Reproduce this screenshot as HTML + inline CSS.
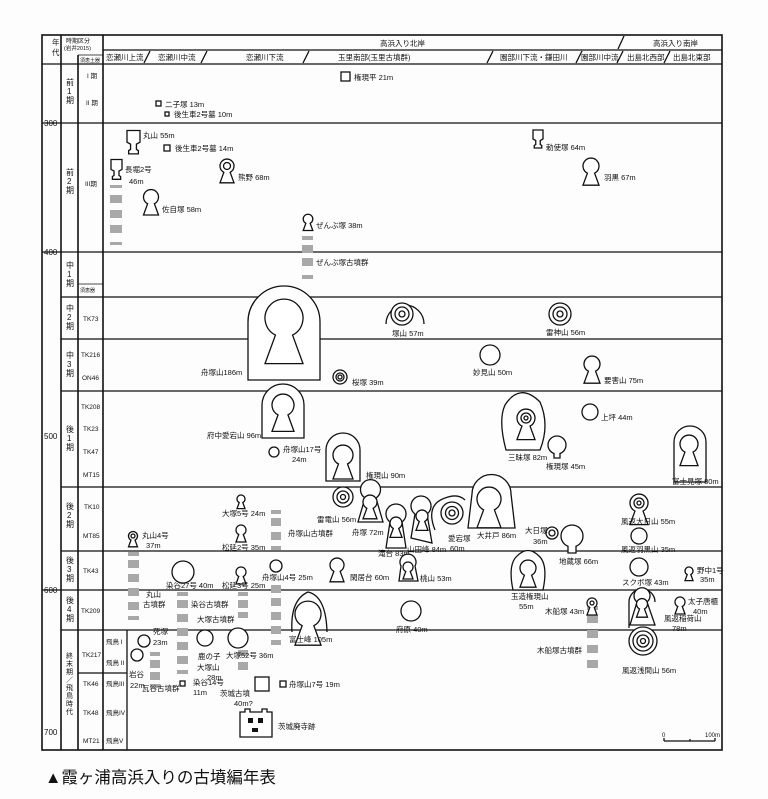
<!DOCTYPE html>
<html><head><meta charset="utf-8"><style>
html,body{margin:0;padding:0;background:#fff}
svg{display:block}
text{font-family:"Liberation Sans","Noto Sans CJK JP",sans-serif;font-size:7.5px;fill:#111}
.s{fill:#fff;stroke:#111;stroke-width:1.3}
.l{stroke:#111;stroke-width:1.3}
.t{stroke:#111;stroke-width:1.6}
.g{fill:#a8a8a8}
</style></head><body>
<svg width="768" height="799" viewBox="0 0 768 799" xmlns="http://www.w3.org/2000/svg">
<defs>
<path id="kh" d="M-0.45,0.9 A1,1 0 1 1 0.45,0.9 L1,2.4 L-1,2.4 Z" fill="#fff" stroke="#111" stroke-width="1.3" vector-effect="non-scaling-stroke"/>
<path id="sk" d="M-1,-1 H1 V0.8 L0.45,1.1 V1.9 L0.75,2.1 V2.6 H-0.75 V2.1 L-0.45,1.9 V1.1 L-1,0.8 Z" fill="#fff" stroke="#111" stroke-width="1.3" vector-effect="non-scaling-stroke"/>
</defs>
<rect width="768" height="799" fill="#fdfdfd"/>
<!-- main horizontal lines -->
<g class="l">
<line x1="42" y1="123" x2="722" y2="123"/>
<line x1="42" y1="252" x2="722" y2="252"/>
<line x1="61" y1="297" x2="722" y2="297"/>
<line x1="61" y1="339" x2="722" y2="339"/>
<line x1="61" y1="391" x2="722" y2="391"/>
<line x1="61" y1="487" x2="722" y2="487"/>
<line x1="61" y1="551" x2="722" y2="551"/>
<line x1="42" y1="590" x2="722" y2="590"/>
<line x1="61" y1="630" x2="722" y2="630"/>
<line x1="78" y1="673" x2="127" y2="673"/>
<line x1="42" y1="64" x2="722" y2="64"/>
<line x1="103" y1="50" x2="722" y2="50"/>
<line x1="127" y1="630" x2="127" y2="750"/>
<line x1="78" y1="55" x2="103" y2="55" stroke-width="0.8"/>
<line x1="78" y1="284" x2="103" y2="284" stroke="#888" stroke-width="1.5"/>
</g>
<rect x="42" y="35" width="680" height="715" fill="none" class="t"/>
<g class="t"><line x1="61" y1="35" x2="61" y2="750"/><line x1="78" y1="55" x2="78" y2="750"/><line x1="103" y1="35" x2="103" y2="750"/></g>
<!-- header slashes -->
<g class="l" stroke-width="1">
<line x1="144" y1="63" x2="150" y2="51"/><line x1="201" y1="63" x2="207" y2="51"/><line x1="303" y1="63" x2="309" y2="51"/>
<line x1="487" y1="63" x2="493" y2="51"/><line x1="576" y1="63" x2="582" y2="51"/><line x1="617" y1="63" x2="623" y2="51"/>
<line x1="664" y1="63" x2="670" y2="51"/><line x1="618" y1="49" x2="624" y2="36"/>
</g>
<text x="52" y="45">年</text><text x="52" y="55">代</text>
<text x="66" y="43" style="font-size:6px">時期区分</text><text x="64" y="50" style="font-size:5.5px">(岩井2015)</text>
<text x="80" y="62" style="font-size:5px">須恵土器</text>
<text x="380" y="46">高浜入り北岸</text><text x="653" y="46">高浜入り南岸</text>
<text x="106" y="60">恋瀬川上流</text><text x="158" y="60">恋瀬川中流</text><text x="246" y="60">恋瀬川下流</text>
<text x="338" y="60">玉里南部(玉里古墳群)</text><text x="500" y="60">園部川下流・鎌田川</text><text x="581" y="60">園部川中流</text>
<text x="627" y="60">出島北西部</text><text x="673" y="60">出島北東部</text>
<!-- years -->
<g style="font-size:8px"><text x="44" y="126" style="font-size:8px">300</text><text x="44" y="255" style="font-size:8px">400</text><text x="44" y="439" style="font-size:8px">500</text><text x="44" y="593" style="font-size:8px">600</text><text x="44" y="735" style="font-size:8px">700</text></g>
<!-- periods -->
<g style="font-size:8px">
<text x="66" y="85" style="font-size:8px">前</text><text x="67" y="94" style="font-size:8px">1</text><text x="66" y="103" style="font-size:8px">期</text>
<text x="66" y="175" style="font-size:8px">前</text><text x="67" y="184" style="font-size:8px">2</text><text x="66" y="193" style="font-size:8px">期</text>
<text x="66" y="268" style="font-size:8px">中</text><text x="67" y="277" style="font-size:8px">1</text><text x="66" y="286" style="font-size:8px">期</text>
<text x="66" y="311" style="font-size:8px">中</text><text x="67" y="320" style="font-size:8px">2</text><text x="66" y="329" style="font-size:8px">期</text>
<text x="66" y="358" style="font-size:8px">中</text><text x="67" y="367" style="font-size:8px">3</text><text x="66" y="376" style="font-size:8px">期</text>
<text x="66" y="432" style="font-size:8px">後</text><text x="67" y="441" style="font-size:8px">1</text><text x="66" y="450" style="font-size:8px">期</text>
<text x="66" y="509" style="font-size:8px">後</text><text x="67" y="518" style="font-size:8px">2</text><text x="66" y="527" style="font-size:8px">期</text>
<text x="66" y="563" style="font-size:8px">後</text><text x="67" y="572" style="font-size:8px">3</text><text x="66" y="581" style="font-size:8px">期</text>
<text x="66" y="603" style="font-size:8px">後</text><text x="67" y="612" style="font-size:8px">4</text><text x="66" y="621" style="font-size:8px">期</text>
<text x="66" y="658" style="font-size:7px">終</text><text x="66" y="666" style="font-size:7px">末</text><text x="66" y="674" style="font-size:7px">期</text><text x="66" y="682" style="font-size:7px">／</text><text x="66" y="690" style="font-size:7px">飛</text><text x="66" y="698" style="font-size:7px">鳥</text><text x="66" y="706" style="font-size:7px">時</text><text x="66" y="714" style="font-size:7px">代</text>
</g>
<g style="font-size:6.5px">
<text x="87" y="78" style="font-size:6.5px">I 期</text><text x="86" y="105" style="font-size:6.5px">II 期</text><text x="85" y="186" style="font-size:6.5px">III期</text>
<text x="80" y="292" style="font-size:5px">須恵器</text>
<text x="83" y="321" style="font-size:6.5px">TK73</text><text x="81" y="357" style="font-size:6.5px">TK216</text><text x="82" y="380" style="font-size:6.5px">ON46</text>
<text x="81" y="409" style="font-size:6.5px">TK208</text><text x="83" y="431" style="font-size:6.5px">TK23</text><text x="83" y="454" style="font-size:6.5px">TK47</text><text x="83" y="477" style="font-size:6.5px">MT15</text>
<text x="84" y="509" style="font-size:6.5px">TK10</text><text x="83" y="538" style="font-size:6.5px">MT85</text><text x="83" y="573" style="font-size:6.5px">TK43</text><text x="81" y="613" style="font-size:6.5px">TK209</text>
<text x="82" y="657" style="font-size:6.5px">TK217</text><text x="83" y="686" style="font-size:6.5px">TK46</text><text x="83" y="715" style="font-size:6.5px">TK48</text><text x="83" y="743" style="font-size:6.5px">MT21</text>
<text x="106" y="644" style="font-size:6.5px">飛鳥 I</text><text x="106" y="665" style="font-size:6.5px">飛鳥 II</text><text x="106" y="686" style="font-size:6.5px">飛鳥III</text><text x="106" y="715" style="font-size:6.5px">飛鳥IV</text><text x="106" y="743" style="font-size:6.5px">飛鳥V</text>
</g>
<!-- grey bars -->
<g class="g">
<rect x="110" y="185" width="12" height="3"/><rect x="110" y="195" width="12" height="8"/><rect x="110" y="210" width="12" height="8"/><rect x="110" y="225" width="12" height="8"/><rect x="110" y="242" width="12" height="3"/>
<rect x="302" y="236" width="11" height="4"/><rect x="302" y="245" width="11" height="8"/><rect x="302" y="258" width="11" height="8"/><rect x="302" y="275" width="11" height="4"/>
<rect x="128" y="552" width="11" height="4"/><rect x="128" y="560" width="11" height="8"/><rect x="128" y="574" width="11" height="8"/><rect x="128" y="588" width="11" height="8"/><rect x="128" y="602" width="11" height="8"/><rect x="128" y="616" width="11" height="4"/>
<rect x="271" y="510" width="10" height="4"/><rect x="271" y="518" width="10" height="8"/><rect x="271" y="532" width="10" height="8"/><rect x="271" y="546" width="10" height="4"/><rect x="271" y="585" width="10" height="8"/><rect x="271" y="598" width="10" height="8"/><rect x="271" y="612" width="10" height="8"/><rect x="271" y="626" width="10" height="8"/><rect x="271" y="640" width="10" height="5"/>
<rect x="177" y="592" width="11" height="4"/><rect x="177" y="600" width="11" height="8"/><rect x="177" y="614" width="11" height="8"/><rect x="177" y="628" width="11" height="8"/><rect x="177" y="642" width="11" height="8"/><rect x="177" y="656" width="11" height="8"/><rect x="177" y="670" width="11" height="4"/>
<rect x="150" y="652" width="10" height="4"/><rect x="150" y="660" width="10" height="8"/><rect x="150" y="672" width="10" height="8"/><rect x="150" y="684" width="10" height="4"/>
<rect x="238" y="592" width="10" height="4"/><rect x="238" y="600" width="10" height="8"/><rect x="238" y="612" width="10" height="6"/><rect x="238" y="650" width="10" height="6"/><rect x="238" y="662" width="10" height="8"/>
<rect x="587" y="606" width="11" height="4"/><rect x="587" y="615" width="11" height="8"/><rect x="587" y="630" width="11" height="8"/><rect x="587" y="645" width="11" height="8"/><rect x="587" y="660" width="11" height="8"/>
</g>
<!-- 前1期 -->
<rect x="341" y="72" width="9" height="9" class="s"/><text x="354" y="80">権現平 21m</text>
<rect x="156" y="101" width="5" height="5" class="s"/><text x="165" y="107">二子塚 13m</text>
<rect x="165" y="112" width="4" height="4" class="s"/><text x="174" y="117">後生車2号墓 10m</text>
<!-- 前2期 -->
<use href="#sk" transform="translate(133.5 137) scale(6.5)"/><text x="143" y="138">丸山 55m</text>
<rect x="164" y="145" width="6" height="6" class="s"/><text x="175" y="151">後生車2号墓 14m</text>
<use href="#sk" transform="translate(116.5 165) scale(5.5)"/><text x="125" y="172">長堀2号</text><text x="129" y="184">46m</text>
<use href="#kh" transform="translate(227 166) scale(7)"/><circle cx="227" cy="166" r="3.5" class="s"/><text x="238" y="180">熊野 68m</text>
<use href="#kh" transform="translate(151 197) scale(7.5)"/><text x="162" y="212">佐自塚 58m</text>
<use href="#kh" transform="translate(308 219) scale(4.8)"/><text x="316" y="228">ぜんぶ塚 38m</text>
<text x="316" y="265">ぜんぶ塚古墳群</text>
<use href="#sk" transform="translate(538 135) scale(5)"/><text x="546" y="150">勅使塚 64m</text>
<use href="#kh" transform="translate(591 166) scale(8)"/><text x="604" y="180">羽黒 67m</text>
<!-- 中期 -->
<path d="M248 380 V322 A36 36 0 0 1 320 322 V380 Z" class="s"/>
<use href="#kh" transform="translate(284 318) scale(19)"/>
<text x="201" y="375">舟塚山186m</text>
<path d="M386 324 A19 19 0 1 1 424 324" fill="none" class="l"/>
<circle cx="402" cy="314" r="11" class="s"/><circle cx="402" cy="314" r="7" class="s"/><circle cx="402" cy="314" r="3" class="s"/>
<text x="392" y="336">塚山 57m</text>
<circle cx="560" cy="314" r="11" class="s"/><circle cx="560" cy="314" r="7" class="s"/><circle cx="560" cy="314" r="3" class="s"/>
<text x="546" y="335">雷神山 56m</text>
<circle cx="340" cy="377" r="7" class="s"/><circle cx="340" cy="377" r="4" class="s"/><circle cx="340" cy="377" r="2" class="s"/>
<text x="352" y="385">桜塚 39m</text>
<circle cx="490" cy="355" r="10" class="s"/><text x="473" y="375">妙見山 50m</text>
<use href="#kh" transform="translate(592 364) scale(8)"/><text x="604" y="383">要害山 75m</text>
<!-- 後1期 -->
<path d="M262 438 V405 A21 21 0 0 1 304 405 V438 Z" class="s"/>
<use href="#kh" transform="translate(283 405) scale(11)"/><text x="207" y="438">府中愛宕山 96m</text>
<circle cx="274" cy="452" r="5" class="s"/><text x="283" y="452">舟塚山17号</text><text x="292" y="462">24m</text>
<path d="M326 481 V450 A17 17 0 0 1 360 450 V481 Z" class="s"/>
<use href="#kh" transform="translate(343 455) scale(10)"/><text x="366" y="478">権現山 90m</text>
<path d="M506 450 Q498 420 505 405 Q520 382 540 402 Q550 425 540 450 Z" class="s"/>
<use href="#kh" transform="translate(526 418) scale(9)"/><circle cx="526" cy="418" r="5" class="s"/><circle cx="526" cy="418" r="2" class="s"/>
<text x="508" y="460">三昧塚 82m</text>
<circle cx="590" cy="412" r="8" class="s"/><text x="601" y="420">上坪 44m</text>
<circle cx="557" cy="445" r="9" class="s"/><path d="M554 453 V458 H560 V453" class="s"/><text x="546" y="469">権現塚 45m</text>
<path d="M674 482 V442 A16 16 0 0 1 706 442 V482 Z" class="s"/>
<use href="#kh" transform="translate(689 444) scale(9)"/><text x="672" y="484">富士見塚 80m</text>
<!-- 後2期 -->
<use href="#kh" transform="translate(241 499) scale(4)"/><text x="222" y="516">大塚5号 24m</text>
<use href="#kh" transform="translate(133 536) scale(4.5)"/><circle cx="133" cy="536" r="2" class="s"/><text x="142" y="538">丸山4号</text><text x="146" y="548">37m</text>
<use href="#kh" transform="translate(241 530) scale(5)"/><text x="222" y="550">松延2号 35m</text>
<text x="288" y="536">舟塚山古墳群</text>
<circle cx="343" cy="497" r="10" class="s"/><circle cx="343" cy="497" r="6" class="s"/><circle cx="343" cy="497" r="2.5" class="s"/>
<text x="317" y="522">雷電山 56m</text>
<path d="M358 522 L365 498 A10 10 0 1 1 376 498 L383 522 Z" class="s"/><use href="#kh" transform="translate(370 502) scale(7)"/>
<text x="352" y="535">舟塚 72m</text>
<path d="M386 548 L390 522 A10 10 0 1 1 402 522 L406 548 Z" class="s"/><use href="#kh" transform="translate(396 523) scale(6)"/>
<text x="378" y="556">滝台 83m</text>
<path d="M411 538 L415 514 A10 10 0 1 1 427 514 L432 543 Z" class="s"/><use href="#kh" transform="translate(422 516) scale(6)"/>
<text x="407" y="552">山田峰 84m</text>
<path d="M435 530 Q425 505 445 498 Q458 493 465 500" fill="none" class="l"/>
<circle cx="452" cy="513" r="11" class="s"/><circle cx="452" cy="513" r="6.5" class="s"/><circle cx="452" cy="513" r="3" class="s"/>
<text x="448" y="541">愛宕塚</text><text x="450" y="551">60m</text>
<path d="M468 528 L472 494 A17 17 0 0 1 511 494 L515 528 Z" class="s"/>
<use href="#kh" transform="translate(489 499) scale(12)"/><text x="477" y="538">大井戸 86m</text>
<circle cx="552" cy="533" r="6" class="s"/><circle cx="552" cy="533" r="3" class="s"/><text x="525" y="533">大日塚</text><text x="533" y="544">36m</text>
<circle cx="572" cy="536" r="11" class="s"/><path d="M568 546 V553 H576 V546" class="s"/><text x="559" y="564">地蔵塚 66m</text>
<use href="#kh" transform="translate(639 503) scale(9)"/><circle cx="639" cy="503" r="5" class="s"/><circle cx="639" cy="503" r="2" class="s"/>
<text x="621" y="524">風返大日山 55m</text>
<circle cx="639" cy="536" r="8" class="s"/><text x="621" y="552">風返羽黒山 35m</text>
<!-- 後3期 -->
<use href="#kh" transform="translate(241 572) scale(5)"/><text x="222" y="588">松延3号 25m</text>
<circle cx="276" cy="566" r="6" class="s"/><text x="262" y="580">舟塚山4号 25m</text>
<use href="#kh" transform="translate(337 565) scale(7)"/><text x="350" y="580">閑居台 60m</text>
<path d="M399 581 L401 566 A8 8 0 1 1 415 566 L418 581 Z" class="s"/><use href="#kh" transform="translate(408 567) scale(5)"/>
<text x="420" y="581">桃山 53m</text>
<path d="M513 590 Q508 566 516 557 Q528 544 540 557 Q548 566 543 590 Z" class="s"/>
<use href="#kh" transform="translate(528 568) scale(8)"/>
<text x="511" y="599">玉造権現山</text><text x="519" y="609">55m</text>
<circle cx="639" cy="567" r="9" class="s"/><text x="622" y="585">スクボ塚 43m</text>
<use href="#kh" transform="translate(689 571) scale(4)"/><text x="697" y="573">野中1号</text><text x="700" y="582">35m</text>
<circle cx="183" cy="572" r="11" class="s"/><text x="166" y="588">染谷27号 40m</text>
<text x="146" y="597">丸山</text><text x="143" y="607">古墳群</text>
<!-- 後4期 -->
<path d="M292 632 Q290 600 308 592 Q326 596 327 632" fill="none" class="l"/>
<use href="#kh" transform="translate(308 614) scale(13)"/><text x="289" y="642">富士峰 105m</text>
<use href="#kh" transform="translate(592 603) scale(5)"/><circle cx="592" cy="603" r="2" class="s"/><text x="545" y="614">木船塚 43m</text>
<use href="#kh" transform="translate(680 602) scale(5)"/><text x="688" y="604">太子唐櫃</text><text x="693" y="614">40m</text>
<path d="M629 628 V602 A13 13 0 0 1 655 602" fill="none" class="l"/>
<path d="M630 625 L637 602 A8 8 0 1 1 647 602 L655 625 Z" class="s"/><use href="#kh" transform="translate(642 604) scale(5.5)"/>
<text x="664" y="621">風返稲荷山</text><text x="672" y="631">78m</text>
<text x="191" y="607">染谷古墳群</text><text x="197" y="622">大塚古墳群</text>
<!-- 終末期 -->
<circle cx="144" cy="641" r="6" class="s"/><text x="153" y="634">死塚</text><text x="153" y="645">23m</text>
<circle cx="137" cy="655" r="6" class="s"/><text x="129" y="677">岩谷</text><text x="130" y="688">22m</text>
<text x="142" y="691">瓦谷古墳群</text>
<circle cx="205" cy="638" r="8" class="s"/><text x="198" y="659">鹿の子</text><text x="197" y="670">大塚山</text><text x="207" y="680">28m</text>
<circle cx="238" cy="638" r="10" class="s"/><text x="226" y="658">大塚52号 36m</text>
<rect x="180" y="681" width="5" height="5" class="s"/><text x="193" y="685">染谷14号</text><text x="193" y="695">11m</text>
<text x="220" y="696">茨城古墳</text><text x="234" y="706">40m?</text>
<rect x="255" y="677" width="14" height="14" class="s"/>
<rect x="280" y="681" width="6" height="6" class="s"/><text x="289" y="687">舟塚山7号 19m</text>
<path d="M240 712 H245 V709 H250 V712 H262 V709 H267 V712 H272 V737 H240 Z" class="s"/>
<rect x="248" y="718" width="5" height="5" fill="#111"/><rect x="258" y="718" width="5" height="5" fill="#111"/><rect x="252" y="728" width="6" height="4" fill="#111"/>
<text x="278" y="729">茨城廃寺跡</text>
<circle cx="411" cy="611" r="10" class="s"/><text x="396" y="632">府原 40m</text>
<text x="537" y="653">木船塚古墳群</text>
<circle cx="643" cy="641" r="14" class="s"/><circle cx="643" cy="641" r="10" class="s"/><circle cx="643" cy="641" r="6" class="s"/><circle cx="643" cy="641" r="2.5" class="s"/>
<text x="622" y="673">風返浅間山 56m</text>
<!-- scale -->
<path d="M664 741 H715 M664 738 V741 M690 739 V741 M715 738 V741" class="l" stroke-width="0.8" fill="none"/>
<text x="662" y="737" style="font-size:6px">0</text><text x="705" y="737" style="font-size:6px">100m</text>
<!-- caption -->
<text x="45" y="783" style="font-size:16.5px">▲霞ヶ浦高浜入りの古墳編年表</text>
</svg>
</body></html>
